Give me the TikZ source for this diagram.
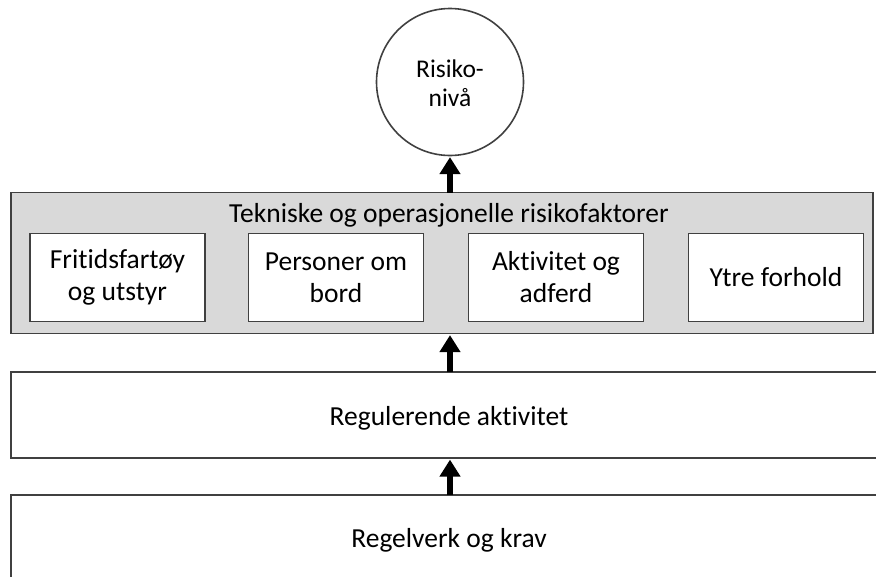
\documentclass[tikz,border=0pt]{standalone}
\usepackage{fontspec}
\setmainfont{Carlito}[Ligatures={NoCommon,NoContextual}]
\usetikzlibrary{arrows.meta}
\definecolor{edge}{HTML}{404040}
\definecolor{panel}{HTML}{D9D9D9}
\tikzset{
  frame/.style={draw=edge, line width=1.6pt},
  factor/.style={frame, fill=white, minimum width=175pt, minimum height=88pt, align=center, font=\fontsize{27.5}{32}\selectfont, inner sep=0pt},
  uparrow/.style={line width=5.5pt, -{Triangle[width=20pt,length=17pt]}, black, shorten >=0.8pt},
  bigtext/.style={font=\fontsize{27.5}{32}\selectfont, anchor=base}
}
\begin{document}
\begin{tikzpicture}[x=1pt,y=-1pt]
\useasboundingbox (0,0) rectangle (876,576);
\clip (0,0) rectangle (876,576);
% circle
\node[frame, circle, minimum size=147pt, inner sep=0pt] (risk) at (450,82) {};
\node[font=\fontsize{25.5}{29}\selectfont, align=center, anchor=base] (risktext) at (450,106) {Risiko-\\nivå};
% panel
\node[frame, fill=panel, minimum width=862pt, minimum height=141pt, inner sep=0pt] (panel) at (442,263) {};
\node[bigtext] (title) at (449,222) {Tekniske og operasjonelle risikofaktorer};
\node[factor] (f1) at (117.5,277.5) {Fritidsfartøy\\og utstyr};
\node[factor] (f2) at (336,277.5) {Personer om\\bord};
\node[factor] (f3) at (556,277.5) {Aktivitet og\\adferd};
\node[factor] (f4) at (776,277.5) {Ytre forhold};
% lower boxes
\node[frame, fill=white, minimum width=880pt, minimum height=86pt, inner sep=0pt] (reg) at (451,415) {};
\node[bigtext] (regtext) at (449,425) {Regulerende aktivitet};
\node[frame, fill=white, minimum width=880pt, minimum height=110pt, inner sep=0pt] (law) at (451,550) {};
\node[bigtext] (lawtext) at (449,547) {Regelverk og krav};
% arrows
\coordinate (a1s) at ([yshift=-0.8pt]panel.north -| risk.south);
\draw[uparrow] (a1s) -- (risk.south);
\coordinate (a2s) at ([yshift=-0.8pt]reg.north -| risk.south);
\draw[uparrow] (a2s) -- (panel.south -| risk.south);
\coordinate (a3s) at ([yshift=-0.8pt]law.north -| risk.south);
\draw[uparrow] (a3s) -- (reg.south -| risk.south);
\end{tikzpicture}
\end{document}
